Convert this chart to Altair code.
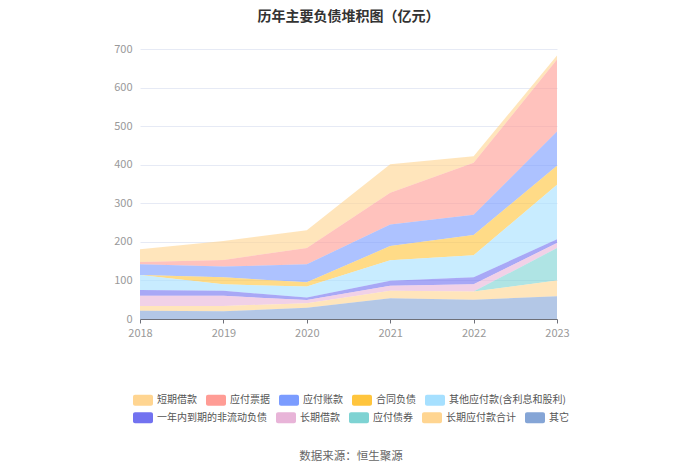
import altair as alt
import pandas as pd

years = ["2018", "2019", "2020", "2021", "2022", "2023"]
series = ["短期借款", "应付票据", "应付账款", "合同负债", "其他应付款(含利息和股利)",
          "一年内到期的非流动负债", "长期借款", "应付债券", "长期应付款合计", "其它"]
colors = ["#FFD591", "#FF9C95", "#7B9CFF", "#FFC53D", "#A6E0FF",
          "#7272F0", "#E8B4D8", "#7ED3D3", "#FFD591", "#85A5D6"]

v_duanqi = [33, 49, 46, 74, 17, 10]
v_piaoju = [6, 17, 42, 82, 135, 187]
v_zhangkuan = [28, 28, 47, 56, 52, 89]
v_hetong = [0, 18, 11, 37, 53, 49]
v_qita_yingfu = [39, 17, 28, 53, 57, 141]
v_yinian = [15, 13, 7, 13, 18, 10]
v_changqi = [26, 26, 8, 13, 19, 13]
v_zhaiquan = [0, 0, 0, 0, 0, 84]
v_changqi_yingfu = [12.5, 14, 12, 19, 21, 41]
v_qita = [21.5, 20, 29, 54, 50, 59]

values = [v_duanqi, v_piaoju, v_zhangkuan, v_hetong, v_qita_yingfu,
          v_yinian, v_changqi, v_zhaiquan, v_changqi_yingfu, v_qita]

rows = []
for i, (name, vals) in enumerate(zip(series, values)):
    for y, v in zip(years, vals):
        rows.append({"年份": y, "类别": name, "值": v, "序": len(series) - 1 - i})
df = pd.DataFrame(rows)

FONT = "Noto Sans CJK SC"
legend_shape = ("M-0.8,-0.55L0.8,-0.55A0.2,0.2 0 0 1 1,-0.35L1,0.35"
                "A0.2,0.2 0 0 1 0.8,0.55L-0.8,0.55A0.2,0.2 0 0 1 -1,0.35"
                "L-1,-0.35A0.2,0.2 0 0 1 -0.8,-0.55Z")


def legend_row(vals, y):
    return alt.Legend(title=None, orient="none", legendX=-7, legendY=y,
                      direction="horizontal", values=vals,
                      symbolType=legend_shape, symbolSize=400,
                      symbolOpacity=1, symbolStrokeWidth=0,
                      labelFontSize=10, labelColor="#555555",
                      labelOffset=4, columnPadding=9, labelFont=FONT,
                      labelLimit=300, padding=0)


x_enc = alt.X("年份:O", scale=alt.Scale(type="point", padding=0),
              axis=alt.Axis(title=None, labelAngle=0, labelColor="#999999",
                            labelFontSize=11, domainColor="#6E7079",
                            tickColor="#6E7079", tickSize=4, grid=False,
                            labelPadding=4))
y_enc = alt.Y("值:Q", stack="zero",
              scale=alt.Scale(domain=[0, 700], nice=False),
              axis=alt.Axis(title=None, values=[0, 100, 200, 300, 400, 500, 600, 700],
                            labelColor="#999999", labelFontSize=11, domain=False,
                            ticks=False, gridColor="#E6EAF5", labelPadding=8))

area = alt.Chart(df).mark_area(opacity=0.62, interpolate="linear").encode(
    x=x_enc,
    y=y_enc,
    color=alt.Color("类别:N", scale=alt.Scale(domain=series, range=colors),
                    legend=legend_row(series[:5], 341)),
    order=alt.Order("序:Q", sort="ascending"),
)

legend2 = alt.Chart(df).mark_area(opacity=0, interpolate="linear").encode(
    x=x_enc,
    y=y_enc,
    fill=alt.Fill("类别:N", scale=alt.Scale(domain=series, range=colors),
                  legend=legend_row(series[5:], 358.5)),
    order=alt.Order("序:Q", sort="ascending"),
)

source = alt.Chart(pd.DataFrame({"t": ["数据来源：恒生聚源"]})).mark_text(
    fontSize=11.5, color="#666666", font=FONT
).encode(text="t:N", x=alt.value(211), y=alt.value(408))

chart = alt.layer(area, legend2, source).resolve_scale(
    color="independent", fill="independent"
).properties(
    width=417, height=270,
    title=alt.TitleParams("历年主要负债堆积图（亿元）", fontSize=14, fontWeight="bold",
                          color="#333333", font=FONT, anchor="middle", offset=19),
    autosize=alt.AutoSizeParams(type="none"),
    padding={"left": 132, "top": 41, "right": 135, "bottom": 147},
).configure(font=FONT).configure_view(stroke=None)

chart.save("out.html", embed_options={"renderer": "svg", "actions": False})
